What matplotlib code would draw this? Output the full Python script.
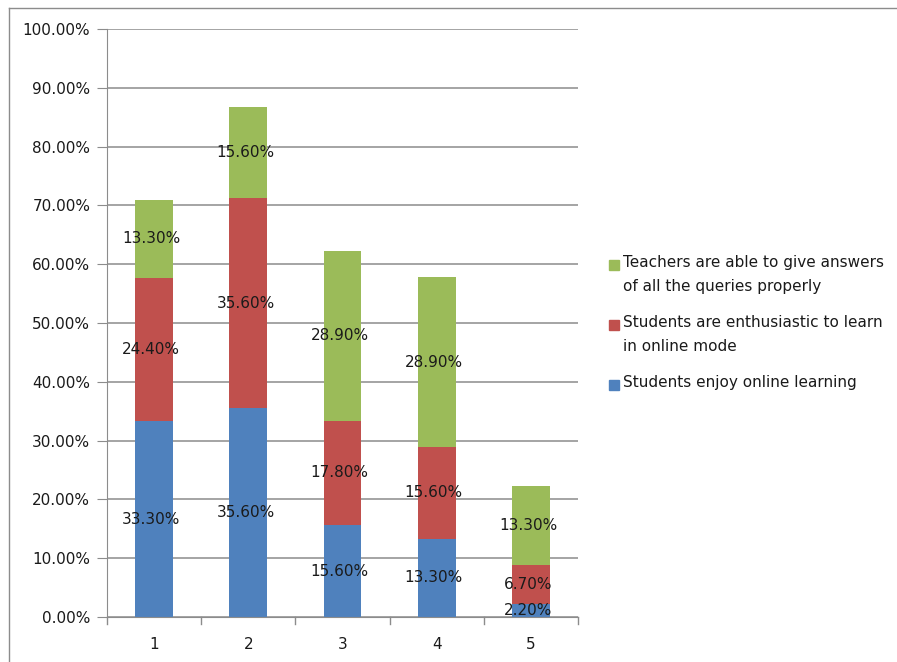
import matplotlib.pyplot as plt
import numpy as np
from matplotlib.lines import Line2D
from matplotlib.patches import Rectangle

categories = ["1", "2", "3", "4", "5"]
enjoy = [33.3, 35.6, 15.6, 13.3, 2.2]
enthusiastic = [24.4, 35.6, 17.8, 15.6, 6.7]
teachers = [13.3, 15.6, 28.9, 28.9, 13.3]

series_names = ["Students enjoy online learning",
                "Students are enthusiastic to learn\nin online mode",
                "Teachers are able to give answers\nof all the queries properly"]
colors = ["#4F81BD", "#C0504D", "#9BBB59"]
txt = "#1a1a1a"
gridc = "#8c8c8c"

W, H = 897, 662
fig = plt.figure(figsize=(W / 100, H / 100), dpi=100)
ax = fig.add_axes([107 / W, (H - 617) / H, 471 / W, 588 / H])

x = np.arange(len(categories))
bottom = np.zeros(len(categories))
for vals, col in zip([enjoy, enthusiastic, teachers], colors):
    vals = np.array(vals)
    ax.bar(x, vals, 0.4, bottom=bottom, color=col, zorder=2)
    for xi, b, v in zip(x, bottom, vals):
        ax.text(xi - 0.03, b + v / 2, "%.2f%%" % v, ha="center", va="center",
                fontsize=11, color=txt, zorder=3)
    bottom += vals

ax.set_xlim(-0.5, 4.5)
ax.set_ylim(0, 100)
ax.set_yticks(np.arange(0, 101, 10))
ax.set_yticklabels(["%.2f%%" % v for v in np.arange(0, 101, 10)], fontsize=11, color=txt)
ax.set_xticks(x)
ax.set_xticklabels(categories, fontsize=11, color=txt)
ax.xaxis.set_ticks_position("none")
ax.grid(axis="y", color=gridc, linewidth=1.1, zorder=0)
for s in ["top", "right"]:
    ax.spines[s].set_visible(False)
ax.spines["left"].set_color(gridc)
ax.spines["bottom"].set_color(gridc)
ax.tick_params(axis="y", length=7, color=gridc, pad=5)
ax.tick_params(axis="x", pad=11)
# category boundary ticks below x-axis
for b in np.arange(-0.5, 5, 1):
    ax.plot([b, b], [0, -1.2], color=gridc, lw=1, clip_on=False)

# manual legend
leg_rows = [(265, 2), (325, 1), (385, 0)]
for y, i in leg_rows:
    fig.add_artist(Rectangle((609 / W, 1 - (y + 5) / H), 10 / W, 10 / H,
                             transform=fig.transFigure, color=colors[i]))
    fig.text(623 / W, 1 - (y - 10) / H, series_names[i], fontsize=11, color=txt,
             va="top", ha="left", linespacing=1.75)

# outer frame (left and top)
fig.add_artist(Line2D([9 / W, 9 / W], [0, 1 - 8 / H], transform=fig.transFigure,
                      color=gridc, lw=1))
fig.add_artist(Line2D([9 / W, 1], [1 - 8 / H, 1 - 8 / H], transform=fig.transFigure,
                      color=gridc, lw=1))

fig.savefig("out.png", dpi=100)
